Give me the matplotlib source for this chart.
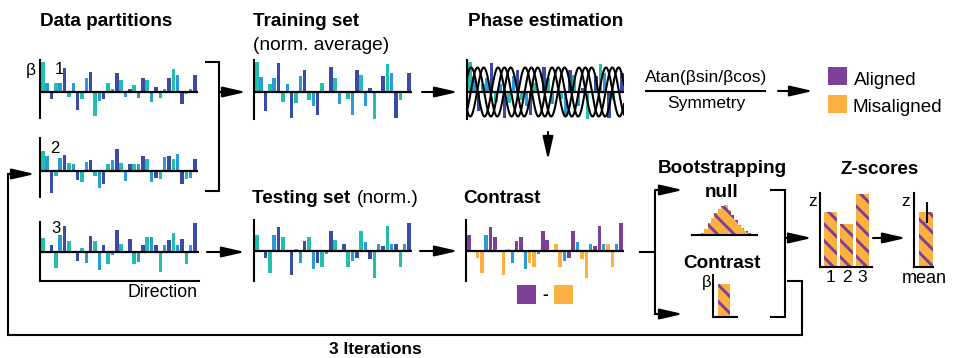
import numpy as np
import matplotlib.pyplot as plt
from matplotlib.patches import Rectangle

plt.rcParams['font.family'] = 'Liberation Sans'
plt.rcParams['hatch.linewidth'] = 2.1

W, H = 955, 358
BAR_PX = 4.35          # pixel pitch of one direction bar

TEAL = '#22bfad'
BLUE = '#2a9ad8'
NAVY = '#3a4aa5'
PURPLE = '#7d3f98'
ORANGE = '#fbb040'

# beta per direction bar (teal / blue / navy sub-bins interleaved)
partition1 = [30, 9, -7, 9, 9, 24, -5, 9, -18, -7, 14, 20, -24, -9, -7, 9, 3, 19,
              12, -5, 3, 7, -6, 14, 12, -10, 5, -6, 3, 14, 23, 17, -12, -2, 3, 17]
partition2 = [20, 15, -22, -5, 13, 16, 8, 7, -9, -11, 9, 11, -5, -17, -13, 7, 11, 22,
              8, -10, 7, 7, 7, 15, 12, -11, -7, -8, 14, 15, 12, 17, -13, -8, -7, 12]
partition3 = [14, 0, 7, -16, 17, 26, 11, 0, -9, 4, -11, 16, 11, -18, 7, -12, -3, 22,
              8, 0, 13, -12, -10, 7, 15, 15, 7, -20, 7, 12, 19, 7, 13, -12, 7, 29]
training = [30, 15, -19, 8, 14, 29, -10, 8, -26, -11, 16, 22, -8, -14, -23, 9, 0, 25,
            14, -12, 0, -7, -23, 22, 17, -14, 4, -27, 0, 16, 28, 19, -26, -8, 0, 19]
testing = [16, 0, -7, -22, 16, 24, 14, 0, -24, 2, -12, 10, 14, -18, -12, -16, -3, 20,
           11, 0, 7, -16, -10, -7, 20, 9, -8, -27, 7, 5, 25, 7, 7, -16, 7, 28]

# alignment class of each direction relative to the estimated phase
contrast_class = ['aligned', 'mid', 'mis', 'mis', 'mid', 'aligned'] * 6

# fitted cosines: phase offsets (in bars), period (bars), amplitude
fit_phases = [0.3, 1.75, 3.2]
fit_period = 6.2
fit_amp = 24.5

null_counts = [2.5, 6.5, 12, 17, 22, 26, 29, 30, 25, 20, 15, 10, 7, 4, 2]
contrast_beta = 33
zscores = [55, 43, 73]
zscore_labels = ['1', '2', '3']
zmean = 55
zmean_err = 10.5

sub_colors = [TEAL, BLUE, NAVY] * 12
class_colors = {'aligned': PURPLE, 'mid': BLUE, 'mis': ORANGE}

fig = plt.figure(figsize=(W / 100, H / 100), dpi=100)
canvas = fig.add_axes([0, 0, 1, 1])
canvas.set_xlim(0, W)
canvas.set_ylim(H, 0)
canvas.axis('off')


def panel(x0, y0, x1, y1):
    ax = fig.add_axes([x0 / W, 1 - y1 / H, (x1 - x0) / W, (y1 - y0) / H])
    ax.patch.set_alpha(0)
    ax.set_xticks([])
    ax.set_yticks([])
    for s in ax.spines.values():
        s.set_visible(False)
        s.set_linewidth(1.5)
    return ax


def beta_panel(x0, y0, x1, y1, base, values, colors, floor=False):
    ax = panel(x0, y0, x1, y1)
    ax.bar(np.arange(len(values)), values, width=0.8, color=colors, linewidth=0)
    ax.set_xlim(-0.65, -0.65 + (x1 - x0) / BAR_PX)
    ax.set_ylim(-(y1 - base), base - y0)
    ax.axhline(0, color='black', lw=1.6)
    ax.spines['left'].set_visible(True)
    if floor:
        ax.spines['bottom'].set_visible(True)
    return ax


def arrow(x0, y0, x1, y1):
    canvas.annotate('', xy=(x1, y1), xytext=(x0, y0),
                    arrowprops=dict(arrowstyle='-|>,head_length=1.4,head_width=0.32',
                                    mutation_scale=10, lw=1.5, color='black',
                                    shrinkA=0, shrinkB=0))


def line(xs, ys):
    canvas.plot(xs, ys, color='black', lw=1.5, solid_joinstyle='miter',
                solid_capstyle='butt')


def label(x, y, s, size=12.5, bold=False, ha='left', va='baseline'):
    canvas.text(x, y, s, fontsize=size, fontweight='bold' if bold else 'normal',
                ha=ha, va=va)


# data partitions
beta_panel(40, 60, 198, 118, 92, partition1, sub_colors)
beta_panel(40, 138, 198, 197, 171, partition2, sub_colors)
beta_panel(40, 222, 199, 281, 252, partition3, sub_colors, floor=True)
label(40, 26, 'Data partitions', 13.6, True)
label(31, 70, 'β', 12.5, ha='center', va='center')
label(55, 74, '1', 12)
label(50, 153, '2', 12)
label(51, 233, '3', 12)
label(197, 297, 'Direction', 12.8, ha='right')
line([205, 219, 219, 205], [62, 62, 191, 191])
arrow(219, 92, 246, 92)
arrow(207, 252, 245, 252)

# training / testing sets
beta_panel(254, 60, 412, 119, 92, training, sub_colors)
label(253, 26, 'Training set', 13.6, True)
label(253, 50, '(norm. average)', 13.8)
beta_panel(254, 220, 412, 281, 251, testing, sub_colors)
label(252, 203, 'Testing set', 13.6, True)
label(357, 203, '(norm.)', 13.8)
arrow(422, 92, 458, 92)
arrow(420, 251, 458, 251)

# phase estimation
ax_phase = beta_panel(467, 60, 624, 119, 92, training, sub_colors)
label(468, 26, 'Phase estimation', 13.6, True)
xs = np.linspace(-0.65, -0.65 + (624 - 467) / BAR_PX, 400)
for ph in fit_phases:
    ax_phase.plot(xs, fit_amp * np.cos(2 * np.pi * (xs - ph) / fit_period),
                  color='black', lw=1.5)
arrow(548, 132, 548, 160)

# phase formula and legend
label(706, 82, 'Atan(βsin/βcos)', 12.5, ha='center')
line([645, 766], [91, 91])
label(706, 108, 'Symmetry', 12.5, ha='center')
arrow(778, 91, 813, 91)
canvas.add_patch(Rectangle((828, 67), 19, 18, color=PURPLE, lw=0))
canvas.add_patch(Rectangle((828, 95), 19, 18, color=ORANGE, lw=0))
label(854, 85, 'Aligned', 13.6)
label(852, 112, 'Misaligned', 13.6)

# contrast of testing set
beta_panel(466, 220, 624, 281, 251, testing,
           [class_colors[c] for c in contrast_class])
label(463, 203, 'Contrast', 13.6, True)
canvas.add_patch(Rectangle((517, 285), 19, 19, color=PURPLE, lw=0))
canvas.add_patch(Rectangle((554, 285), 19, 19, color=ORANGE, lw=0))
label(545, 295, '-', 12.5, True, ha='center', va='center')

# bootstrapping null vs contrast
line([639, 655], [252, 252])
line([655, 655], [190, 315])
arrow(655, 190, 683, 190)
arrow(655, 314, 683, 314)
label(722, 173, 'Bootstrapping', 13.6, True, ha='center')
label(722, 197, 'null', 13.6, True, ha='center')
ax_null = panel(692, 200, 757, 235)
ax_null.bar(np.arange(len(null_counts)), null_counts, width=1.0, color=ORANGE,
            edgecolor=PURPLE, hatch='\\\\', linewidth=0)
ax_null.set_xlim(-3.2, 16.3)
ax_null.set_ylim(0, 35)
ax_null.spines['bottom'].set_visible(True)

label(722, 268, 'Contrast', 13.6, True, ha='center')
label(707, 283, 'β', 12, ha='center', va='center')
ax_cb = panel(713, 275, 737, 317)
ax_cb.bar([0], [contrast_beta], width=12, color=ORANGE, edgecolor=PURPLE,
          hatch='\\\\', linewidth=0)
ax_cb.set_xlim(-11, 13)
ax_cb.set_ylim(0, 42)
ax_cb.spines['left'].set_visible(True)
ax_cb.spines['bottom'].set_visible(True)

line([770, 785, 785, 770], [190, 190, 317, 317])
arrow(785, 238, 812, 238)

# z-scores
label(840, 174, 'Z-scores', 13.6, True)
ax_z = panel(820, 193, 872, 267)
ax_z.bar([1, 2, 3], zscores, width=13 / 16, color=ORANGE, edgecolor=PURPLE,
         hatch='\\\\', linewidth=0)
ax_z.set_xlim(0.344, 3.594)
ax_z.set_ylim(0, 74)
ax_z.spines['left'].set_visible(True)
ax_z.spines['bottom'].set_visible(True)
ax_z.set_xticks([1, 2, 3], zscore_labels, fontsize=12.5)
ax_z.tick_params(axis='x', length=0, pad=2)
label(813, 202, 'z', 12.5, ha='center', va='center')
arrow(873, 238, 906, 238)

ax_m = panel(914, 193, 933, 267)
ax_m.bar([0], [zmean], width=14, color=ORANGE, edgecolor=PURPLE,
         hatch='\\\\', linewidth=0)
ax_m.errorbar([1], [zmean], yerr=[zmean_err], color='black', lw=1.5, capsize=0)
ax_m.set_xlim(-12, 7)
ax_m.set_ylim(0, 74)
ax_m.spines['left'].set_visible(True)
ax_m.spines['bottom'].set_visible(True)
ax_m.set_xticks([-2], ['mean'], fontsize=13)
ax_m.tick_params(axis='x', length=0, pad=2)
label(906, 202, 'z', 12.5, ha='center', va='center')

# iteration loop back to the partitions
line([787, 802, 802, 8, 8, 20], [281, 281, 335, 335, 174, 174])
arrow(8, 174, 35, 174)
label(375, 354, '3 Iterations', 12.5, True, ha='center')

fig.savefig('out.png', dpi=100)
